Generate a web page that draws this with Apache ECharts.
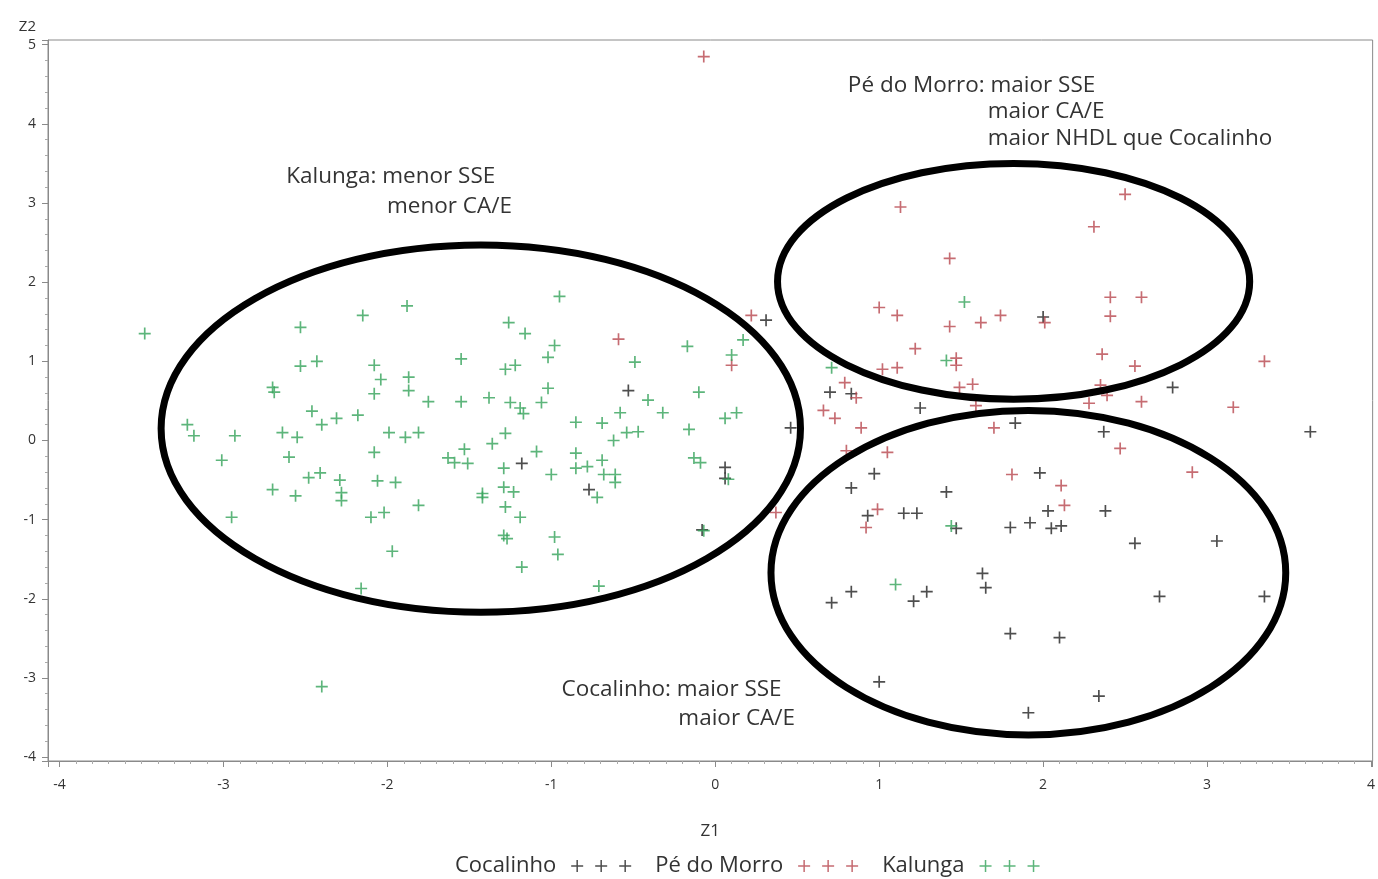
<!DOCTYPE html>
<html><head><meta charset="utf-8">
<script src="https://cdn.jsdelivr.net/npm/echarts@6/dist/echarts.min.js"></script>
<style>html,body{margin:0;padding:0;background:#fff}#c{width:1378px;height:879px}</style>
</head><body><div id="c"></div>
<script>
const seriesNames = ['Cocalinho', 'Pé do Morro', 'Kalunga'];
const cocalinho = [
  [-1.18,-0.29],[-0.53,0.63],[-0.77,-0.62],[0.31,1.52],[2.0,1.56],[0.70,0.61],[0.83,0.59],[1.25,0.41],
  [1.83,0.22],[0.46,0.16],[0.06,-0.34],[0.06,-0.48],[0.97,-0.42],[0.83,-0.60],[1.41,-0.65],[1.98,-0.41],
  [0.93,-0.95],[1.15,-0.92],[1.23,-0.92],[2.79,0.67],[3.63,0.11],[2.37,0.11],[2.38,-0.89],[2.03,-0.89],
  [2.05,-1.11],[2.11,-1.08],[2.56,-1.30],[3.06,-1.27],[2.71,-1.97],[3.35,-1.97],[2.10,-2.49],[2.34,-3.23],
  [1.47,-1.11],[1.80,-1.10],[1.92,-1.04],[1.63,-1.68],[1.65,-1.86],[0.83,-1.91],[0.71,-2.05],[1.21,-2.03],
  [1.29,-1.91],[1.80,-2.44],[1.00,-3.05],[1.91,-3.44],[-0.08,-1.13]
];
const peDoMorro = [
  [-0.07,4.85],[1.13,2.95],[1.43,2.30],[2.50,3.11],[2.31,2.70],[-0.59,1.28],[0.22,1.58],[0.10,0.95],
  [1.00,1.68],[1.11,1.58],[1.43,1.44],[1.62,1.49],[1.74,1.58],[2.01,1.49],[1.22,1.16],[1.47,1.04],
  [1.47,0.95],[1.02,0.90],[1.11,0.92],[0.79,0.73],[0.86,0.54],[1.49,0.67],[1.57,0.71],[0.66,0.38],
  [0.73,0.28],[0.89,0.16],[1.59,0.44],[1.70,0.16],[0.80,-0.13],[1.05,-0.15],[1.81,-0.43],[0.37,-0.91],
  [0.99,-0.87],[2.41,1.81],[2.60,1.81],[2.41,1.57],[2.36,1.09],[2.56,0.94],[3.35,1.0],[2.35,0.70],
  [2.39,0.57],[2.28,0.47],[2.60,0.49],[3.16,0.42],[2.47,-0.10],[2.91,-0.40],[2.11,-0.57],[2.13,-0.82],
  [0.92,-1.10]
];
const kalunga = [
  [-3.48,1.35],[-2.53,1.43],[-2.15,1.58],[-2.53,0.94],[-2.43,1.0],[-2.08,0.95],[-2.04,0.77],[-2.08,0.59],
  [-2.70,0.67],[-2.69,0.61],[-2.46,0.37],[-2.40,0.20],[-2.31,0.28],[-2.18,0.32],[-1.99,0.10],[-3.22,0.20],
  [-3.18,0.06],[-2.93,0.06],[-2.64,0.10],[-2.55,0.04],[-3.01,-0.25],[-2.60,-0.21],[-2.08,-0.15],[-2.48,-0.47],
  [-2.41,-0.41],[-2.29,-0.50],[-2.28,-0.66],[-2.28,-0.76],[-2.06,-0.51],[-2.70,-0.62],[-2.56,-0.70],[-2.95,-0.97],
  [-2.10,-0.97],[-2.02,-0.91],
  [-1.88,1.70],[-0.95,1.82],[-1.26,1.49],[-1.16,1.35],[-0.98,1.20],[-1.02,1.05],[-0.17,1.19],[-0.49,0.99],
  [-1.55,1.03],[-1.28,0.90],[-1.22,0.95],[-1.87,0.80],[-1.87,0.63],[-0.10,0.61],[-1.75,0.49],[-1.55,0.49],
  [-1.38,0.54],[-1.25,0.48],[-1.19,0.41],[-1.17,0.34],[-1.06,0.48],[-1.02,0.66],[-0.41,0.51],[-0.32,0.35],
  [-0.58,0.35],[-0.85,0.23],[-0.69,0.22],[-0.54,0.10],[-0.47,0.11],[-0.62,0.0],[-0.16,0.14],[-1.89,0.04],
  [-1.81,0.10],[-1.28,0.09],[-1.36,-0.04],[-1.09,-0.14],[-1.53,-0.11],[-1.63,-0.22],[-1.59,-0.28],[-1.51,-0.29],
  [-0.85,-0.16],[-0.85,-0.35],[-0.78,-0.33],[-0.69,-0.25],[-1.29,-0.35],[-1.00,-0.43],[-0.68,-0.43],[-0.61,-0.43],
  [-0.61,-0.53],[-0.72,-0.72],[-0.13,-0.22],[-0.09,-0.28],[-1.95,-0.53],[-1.29,-0.59],[-1.23,-0.65],[-1.42,-0.67],
  [-1.42,-0.72],[-1.81,-0.82],[-1.28,-0.84],[-1.19,-0.97],
  [-1.29,-1.20],[-1.27,-1.24],[-0.98,-1.22],[-0.96,-1.44],[-1.18,-1.60],[-1.97,-1.40],[-0.71,-1.84],[-0.07,-1.14],
  [-2.40,-3.11],[-2.16,-1.87],
  [0.17,1.27],[0.10,1.08],[1.52,1.75],[1.41,1.01],[0.71,0.92],[0.06,0.28],[0.13,0.35],[0.08,-0.49],
  [1.44,-1.08],[1.10,-1.82]
];
// annotation ellipses: [centerX, centerY, radiusX, radiusY] in data units
const ellipses = [
  [-1.43, 0.15, 1.95, 2.32],
  [1.82, 2.01, 1.44, 1.49],
  [1.91, -1.67, 1.57, 2.05]
];
// annotation texts: [x, y, text] (left anchored)
const notes = [
  [-2.617, 3.33, 'Kalunga: menor SSE'],
  [-2.002, 2.95, 'menor CA/E'],
  [0.809, 4.49, 'Pé do Morro: maior SSE'],
  [1.662, 4.15, 'maior CA/E'],
  [1.662, 3.81, 'maior NHDL que Cocalinho'],
  [-0.937, -3.15, 'Cocalinho: maior SSE'],
  [-0.225, -3.52, 'maior CA/E']
];
const colors = ['#222222', '#b8474f', '#35a35a'];
const FONT = 'Open Sans';
const plus = 'path://M4.3,0H5.7V4.3H10V5.7H5.7V10H4.3V5.7H0V4.3H4.3Z';
const legendIcon = 'path://M5.25,0h1.5v5.25h5.25v1.5h-5.25v5.25h-1.5v-5.25h-5.25v-1.5h5.25zM29.25,0h1.5v5.25h5.25v1.5h-5.25v5.25h-1.5v-5.25h-5.25v-1.5h5.25zM53.25,0h1.5v5.25h5.25v1.5h-5.25v5.25h-1.5v-5.25h-5.25v-1.5h5.25z';

const chart = echarts.init(document.getElementById('c'));
const dataSets = [cocalinho, peDoMorro, kalunga];
const scatterSeries = seriesNames.map((n, i) => ({
  name: n, type: 'scatter', data: dataSets[i], symbol: plus, symbolSize: 12,
  itemStyle: { color: colors[i] }, z: 3
}));
chart.setOption({
  animation: false,
  textStyle: { fontFamily: FONT },
  grid: { left: 48, right: 1, top: 40, bottom: 118, show: true, borderColor: '#8a8a8a', borderWidth: 1 },
  legend: {
    data: seriesNames, top: 850, left: 450, align: 'right', itemGap: 24,
    icon: legendIcon, itemWidth: 60, itemHeight: 12,
    textStyle: { fontFamily: FONT, fontSize: 22, color: '#333', padding: [0, 10, 0, 0] }
  },
  xAxis: {
    type: 'value', min: -4.07, max: 4.01, splitNumber: 8,
    name: 'Z1', nameLocation: 'middle', nameGap: 62,
    nameTextStyle: { fontFamily: FONT, fontSize: 17, color: '#333' },
    axisLine: { onZero: false, lineStyle: { color: '#8a8a8a' } },
    axisTick: { length: 6, lineStyle: { color: '#8a8a8a' } },
    minorTick: { show: true, splitNumber: 10, length: 3, lineStyle: { color: '#aaa' } },
    axisLabel: { showMinLabel: false, showMaxLabel: false, fontSize: 14, color: '#333', margin: 17 },
    splitLine: { show: false }
  },
  yAxis: {
    type: 'value', min: -4.05, max: 5.06, splitNumber: 9,
    name: 'Z2', nameLocation: 'end', nameGap: 6,
    nameTextStyle: { fontFamily: FONT, fontSize: 15, color: '#333', align: 'right', padding: [0, 12, 0, 0] },
    axisLine: { onZero: false, lineStyle: { color: '#8a8a8a' } },
    axisTick: { length: 6, lineStyle: { color: '#8a8a8a' } },
    minorTick: { show: true, splitNumber: 5, length: 3, lineStyle: { color: '#aaa' } },
    axisLabel: { showMinLabel: false, showMaxLabel: false, fontSize: 14, color: '#333', margin: 12 },
    splitLine: { show: false }
  },
  series: scatterSeries.concat([
    {
      type: 'custom', name: 'ellipses', data: ellipses, clip: false, z: 4, silent: true,
      renderItem: (params, api) => {
        const c = api.coord([api.value(0), api.value(1)]);
        const s = api.size([api.value(2), api.value(3)]);
        return { type: 'ellipse', shape: { cx: c[0], cy: c[1], rx: s[0], ry: s[1] },
          style: { fill: null, stroke: '#000', lineWidth: 7 } };
      }
    },
    {
      type: 'custom', name: 'notes', data: notes.map(n => [n[0], n[1]]), clip: false, z: 5, silent: true,
      renderItem: (params, api) => {
        const c = api.coord([api.value(0), api.value(1)]);
        return { type: 'text', x: c[0], y: c[1],
          style: { text: notes[params.dataIndex][2], fill: '#333', font: '22.5px "Open Sans"',
            textAlign: 'left', textVerticalAlign: 'middle' } };
      }
    }
  ])
});
</script>
</body></html>
